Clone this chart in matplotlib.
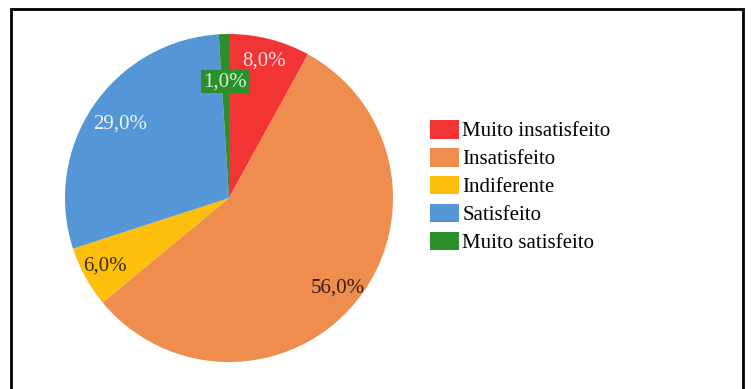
import matplotlib.pyplot as plt
import numpy as np
from matplotlib.patches import Rectangle

# Data
categories = ['Muito insatisfeito', 'Insatisfeito', 'Indiferente', 'Satisfeito', 'Muito satisfeito']
values = [8.0, 56.0, 6.0, 29.0, 1.0]
colors = ['#F23434', '#EE8D4D', '#FDBF0B', '#5597D6', '#2B8F2B']
label_colors = ['#FBE0E0', '#3A1A0A', '#3A2A00', '#EEF4FB', '#D8F2D0']
label_dist = [0.86, 0.86, 0.86, 0.80, 0.71]

plt.rcParams['font.family'] = ['Liberation Serif', 'DejaVu Serif']

W, H = 755, 389
fig = plt.figure(figsize=(W / 100, H / 100), dpi=100)
ax = fig.add_axes([0, 0, 1, 1])

cx, cy, r = 229, H - 198, 164
wedges, _ = ax.pie(values, colors=colors, startangle=90, counterclock=False,
                   center=(cx, cy), radius=r, frame=True,
                   wedgeprops=dict(linewidth=0))
ax.set_xlim(0, W)
ax.set_ylim(0, H)
ax.set_aspect('equal')
ax.axis('off')

# percentage labels at the middle angle of every wedge
for w, v, d, c in zip(wedges, values, label_dist, label_colors):
    ang = np.deg2rad((w.theta1 + w.theta2) / 2)
    x = cx + d * r * np.cos(ang)
    y = cy + d * r * np.sin(ang)
    txt = f'{v:.1f}%'.replace('.', ',')
    kw = {}
    if v < 2:
        kw['bbox'] = dict(boxstyle='square,pad=0.1', facecolor=w.get_facecolor(), edgecolor='none')
    ax.text(x, y, txt, ha='center', va='center', fontsize=15, color=c, **kw)

ax.legend(wedges, categories, loc='upper left', bbox_to_anchor=(430 / W, (H - 120) / H),
          frameon=False, fontsize=15, handlelength=1.4, handleheight=1.0,
          handletextpad=0.15, labelspacing=0.31, borderpad=0, borderaxespad=0)

# outer frame of the picture
ax.add_patch(Rectangle((11, -5), 732, H - 9 + 5, fill=False, edgecolor='black', linewidth=2))

fig.savefig('out.png', dpi=100)
